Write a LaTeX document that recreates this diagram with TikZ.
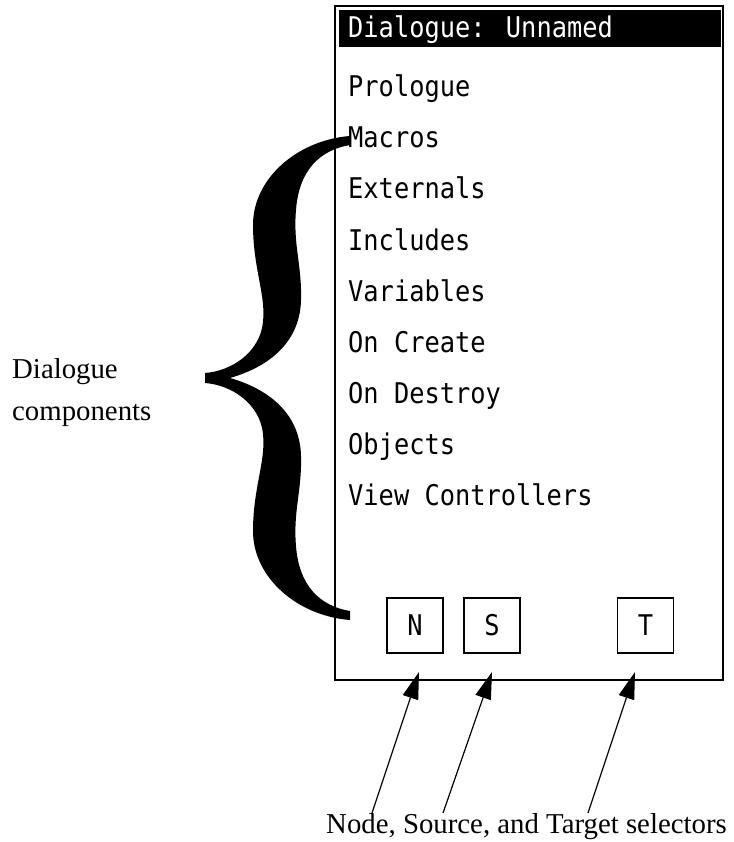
\documentclass[tikz,border=0pt]{standalone}
\usepackage{fontspec}
\setmainfont{Liberation Serif}
\newfontfamily\uifont[FakeStretch=0.89]{DejaVu Sans Mono}
\usetikzlibrary{arrows.meta}

\tikzset{
  item/.style={anchor=base west, inner sep=0pt, font=\uifont\fontsize{28.5}{32}\selectfont},
  selbtn/.style={draw, line width=1.6pt, minimum width=56pt, minimum height=55pt, inner sep=0pt,
    font=\uifont\fontsize{28.5}{32}\selectfont},
  lbl/.style={inner sep=0pt, font=\fontsize{28.8}{34}\selectfont},
  selarrow/.style={-{Triangle[length=27pt,width=16pt]}, line width=1.2pt}
}

\begin{document}
\begin{tikzpicture}[x=1pt,y=-1pt]
\useasboundingbox (0,0) rectangle (733,842);
% dialogue window
\draw[line width=2pt] (335,6) rectangle (723,680);
\fill (339,10) rectangle (721,47);
\node[item, text=white] (title) at (348,38) {Dialogue: Unnamed};
\foreach \txt [count=\i] in {Prologue, Macros, Externals, Includes, Variables,
    On Create, On Destroy, Objects, View Controllers}
  \node[item] (item\i) at (348,{97+51*(\i-1)}) {\txt};

% selector buttons
\node[selbtn] (nbtn) at (415,625.5) {N};
\node[selbtn] (sbtn) at (492,625.5) {S};
\node[selbtn] (tbtn) at (645.5,625.5) {T};

% brace
\fill (350,136) .. controls (298,140) and (253,178) .. (253,225)
  .. controls (253,268) and (266,295) .. (263,322)
  .. controls (260,352) and (232,371) .. (205,373)
  -- (205,383)
  .. controls (232,385) and (260,404) .. (263,434)
  .. controls (266,461) and (253,488) .. (253,531)
  .. controls (253,578) and (298,616) .. (350,620)
  -- (350,611)
  .. controls (320,606) and (299,586) .. (296,546)
  .. controls (293,511) and (302,491) .. (301,456)
  .. controls (300,411) and (265,388) .. (230,378)
  .. controls (265,368) and (300,345) .. (301,300)
  .. controls (302,265) and (293,245) .. (296,210)
  .. controls (299,170) and (320,150) .. (350,145) -- cycle;

% labels
\node[lbl, anchor=base west] (dlg) at (12,378) {Dialogue};
\node[lbl, anchor=base west] (cmp) at (12,420) {components};
\node[lbl, anchor=base] (sellbl) at (526.5,833) {Node, Source, and Target selectors};

% arrows to the selectors
\coordinate (ntail) at (372,813);
\coordinate (stail) at (443,813);
\coordinate (ttail) at (588,813);
\coordinate (ntip) at (419,672);
\coordinate (stip) at (492,672);
\coordinate (ttip) at (635,672);
\draw[selarrow] (ntail) -- (ntip);
\draw[selarrow] (stail) -- (stip);
\draw[selarrow] (ttail) -- (ttip);
\end{tikzpicture}
\end{document}
